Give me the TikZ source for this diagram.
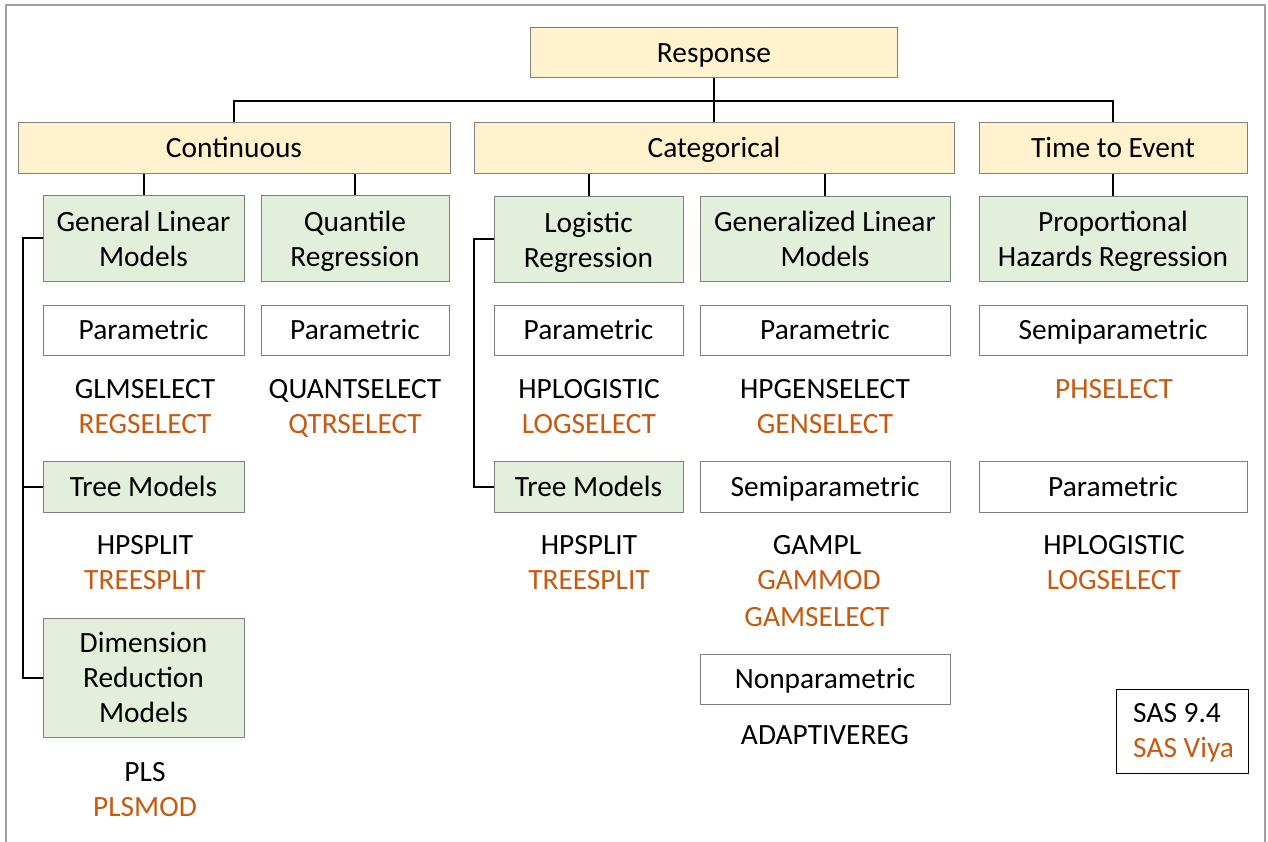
\documentclass[tikz,border=0pt]{standalone}
\usepackage{fontspec}
\setmainfont{Carlito}
\definecolor{ylw}{HTML}{FFF2CC}
\definecolor{grn}{HTML}{E2EFDA}
\definecolor{bord}{HTML}{7F7F7F}
\definecolor{org}{HTML}{C55A11}
\definecolor{frame}{HTML}{A0A0A0}
\tikzset{
  box/.style={draw=bord, line width=1pt, inner sep=0pt, align=center, font=\fontsize{29.4}{35}\selectfont},
  ybox/.style={box, fill=ylw},
  gbox/.style={box, fill=grn},
  wbox/.style={box, fill=white},
  one/.style={text height=25pt, text depth=6pt},
  lbl/.style={font=\fontsize{29.4}{35}\selectfont, anchor=base, inner sep=0pt},
  sas/.style={lbl, text=black},
  viya/.style={lbl, text=org},
  conn/.style={line width=2pt, black},
}
\begin{document}
\begin{tikzpicture}[x=1pt,y=-1pt]
\useasboundingbox (0,0) rectangle (1268,842);
\draw[frame, line width=1.2pt] (6,845) -- (6,5) -- (1265,5) -- (1265,845);

% level 0/1
\node[ybox, one, minimum width=367, minimum height=50] (resp) at (714,53) {Response};
\node[ybox, one, minimum width=432, minimum height=51] (cont) at (234,148.5) {Continuous};
\node[ybox, one, minimum width=480, minimum height=51] (cat) at (714,148.5) {Categorical};
\node[ybox, one, minimum width=268, minimum height=51] (tte) at (1113,148.5) {Time to Event};

% level 2
\node[gbox, minimum width=201, minimum height=85] (glm) at (143.5,238.5) {General Linear\\Models};
\node[gbox, minimum width=188, minimum height=85] (qr) at (355,238.5) {Quantile\\\smash{Regression}};
\node[gbox, minimum width=189, minimum height=85] (lr) at (588.5,239.5) {Logistic\\\smash{Regression}};
\node[gbox, minimum width=250, minimum height=85] (gen) at (825,239) {Generalized Linear\\Models};
\node[gbox, minimum width=268, minimum height=85] (phr) at (1113,239) {Proportional\\\smash{Hazards Regression}};

% level 3
\node[wbox, one, minimum width=201, minimum height=50] (p1) at (143.5,330) {Parametric};
\node[wbox, one, minimum width=188, minimum height=50] (p2) at (355,330) {Parametric};
\node[wbox, one, minimum width=189, minimum height=50] (p3) at (588.5,330) {Parametric};
\node[wbox, one, minimum width=250, minimum height=50] (p4) at (825,330) {Parametric};
\node[wbox, one, minimum width=268, minimum height=50] (s5) at (1113,330) {Semiparametric};

\node[sas] (t1a) at (145,398) {GLMSELECT};
\node[viya] (t1b) at (145,433) {REGSELECT};
\node[sas] (t2a) at (355,398) {QUANTSELECT};
\node[viya] (t2b) at (355,433) {QTRSELECT};
\node[sas] (t3a) at (589,398) {HPLOGISTIC};
\node[viya] (t3b) at (589,433) {LOGSELECT};
\node[sas] (t4a) at (825,398) {HPGENSELECT};
\node[viya] (t4b) at (825,433) {GENSELECT};
\node[viya] (t5b) at (1114,398) {PHSELECT};

% level 4
\node[gbox, one, minimum width=201, minimum height=51] (tr1) at (143.5,486.5) {Tree Models};
\node[gbox, one, minimum width=189, minimum height=51] (tr2) at (588.5,486.5) {Tree Models};
\node[wbox, one, minimum width=250, minimum height=51] (sp4) at (825,486.5) {Semiparametric};
\node[wbox, one, minimum width=268, minimum height=51] (pa5) at (1113,486.5) {Parametric};

\node[sas] (u1a) at (145,554) {HPSPLIT};
\node[viya] (u1b) at (145,589) {TREESPLIT};
\node[sas] (u2a) at (589,554) {HPSPLIT};
\node[viya] (u2b) at (589,589) {TREESPLIT};
\node[sas] (u4a) at (817,554) {GAMPL};
\node[viya] (u4b) at (819,589) {GAMMOD};
\node[viya] (u4c) at (817,626) {GAMSELECT};
\node[sas] (u5a) at (1114,554) {HPLOGISTIC};
\node[viya] (u5b) at (1114,589) {LOGSELECT};

% level 5
\node[gbox, minimum width=201, minimum height=119] (drm) at (143.5,677.5) {Dimension\\Reduction\\Models};
\node[wbox, one, minimum width=250, minimum height=50] (np) at (825,679) {Nonparametric};
\node[sas] (v4a) at (825,744) {ADAPTIVEREG};
\node[sas] (w1a) at (145,781) {PLS};
\node[viya] (w1b) at (145,816) {PLSMOD};

% legend
\node[draw=black, line width=1pt, minimum width=132, minimum height=84, inner sep=0pt] (leg) at (1182,731) {};
\node[sas, anchor=base west] (l1) at (1133,722) {SAS 9.4};
\node[viya, anchor=base west] (l2) at (1133,757) {SAS Viya};

% connectors
\coordinate (bar) at (714,101);
\draw[conn] (resp.south) -- (bar);
\draw[conn] (cont.north) |- (bar) -| (tte.north);
\draw[conn] (bar) -- (cat.north);
\draw[conn] (glm.north) -- (glm.north |- cont.south);
\draw[conn] (qr.north) -- (qr.north |- cont.south);
\draw[conn] (lr.north) -- (lr.north |- cat.south);
\draw[conn] (gen.north) -- (gen.north |- cat.south);
\draw[conn] (phr.north) -- (phr.north |- tte.south);
\draw[conn] (glm.west) -- ++(-20,0) |- (drm.west);
\draw[conn] (tr1.west) -- ++(-20,0);
\draw[conn] (lr.west) -- ++(-20,0) |- (tr2.west);
\end{tikzpicture}
\end{document}
